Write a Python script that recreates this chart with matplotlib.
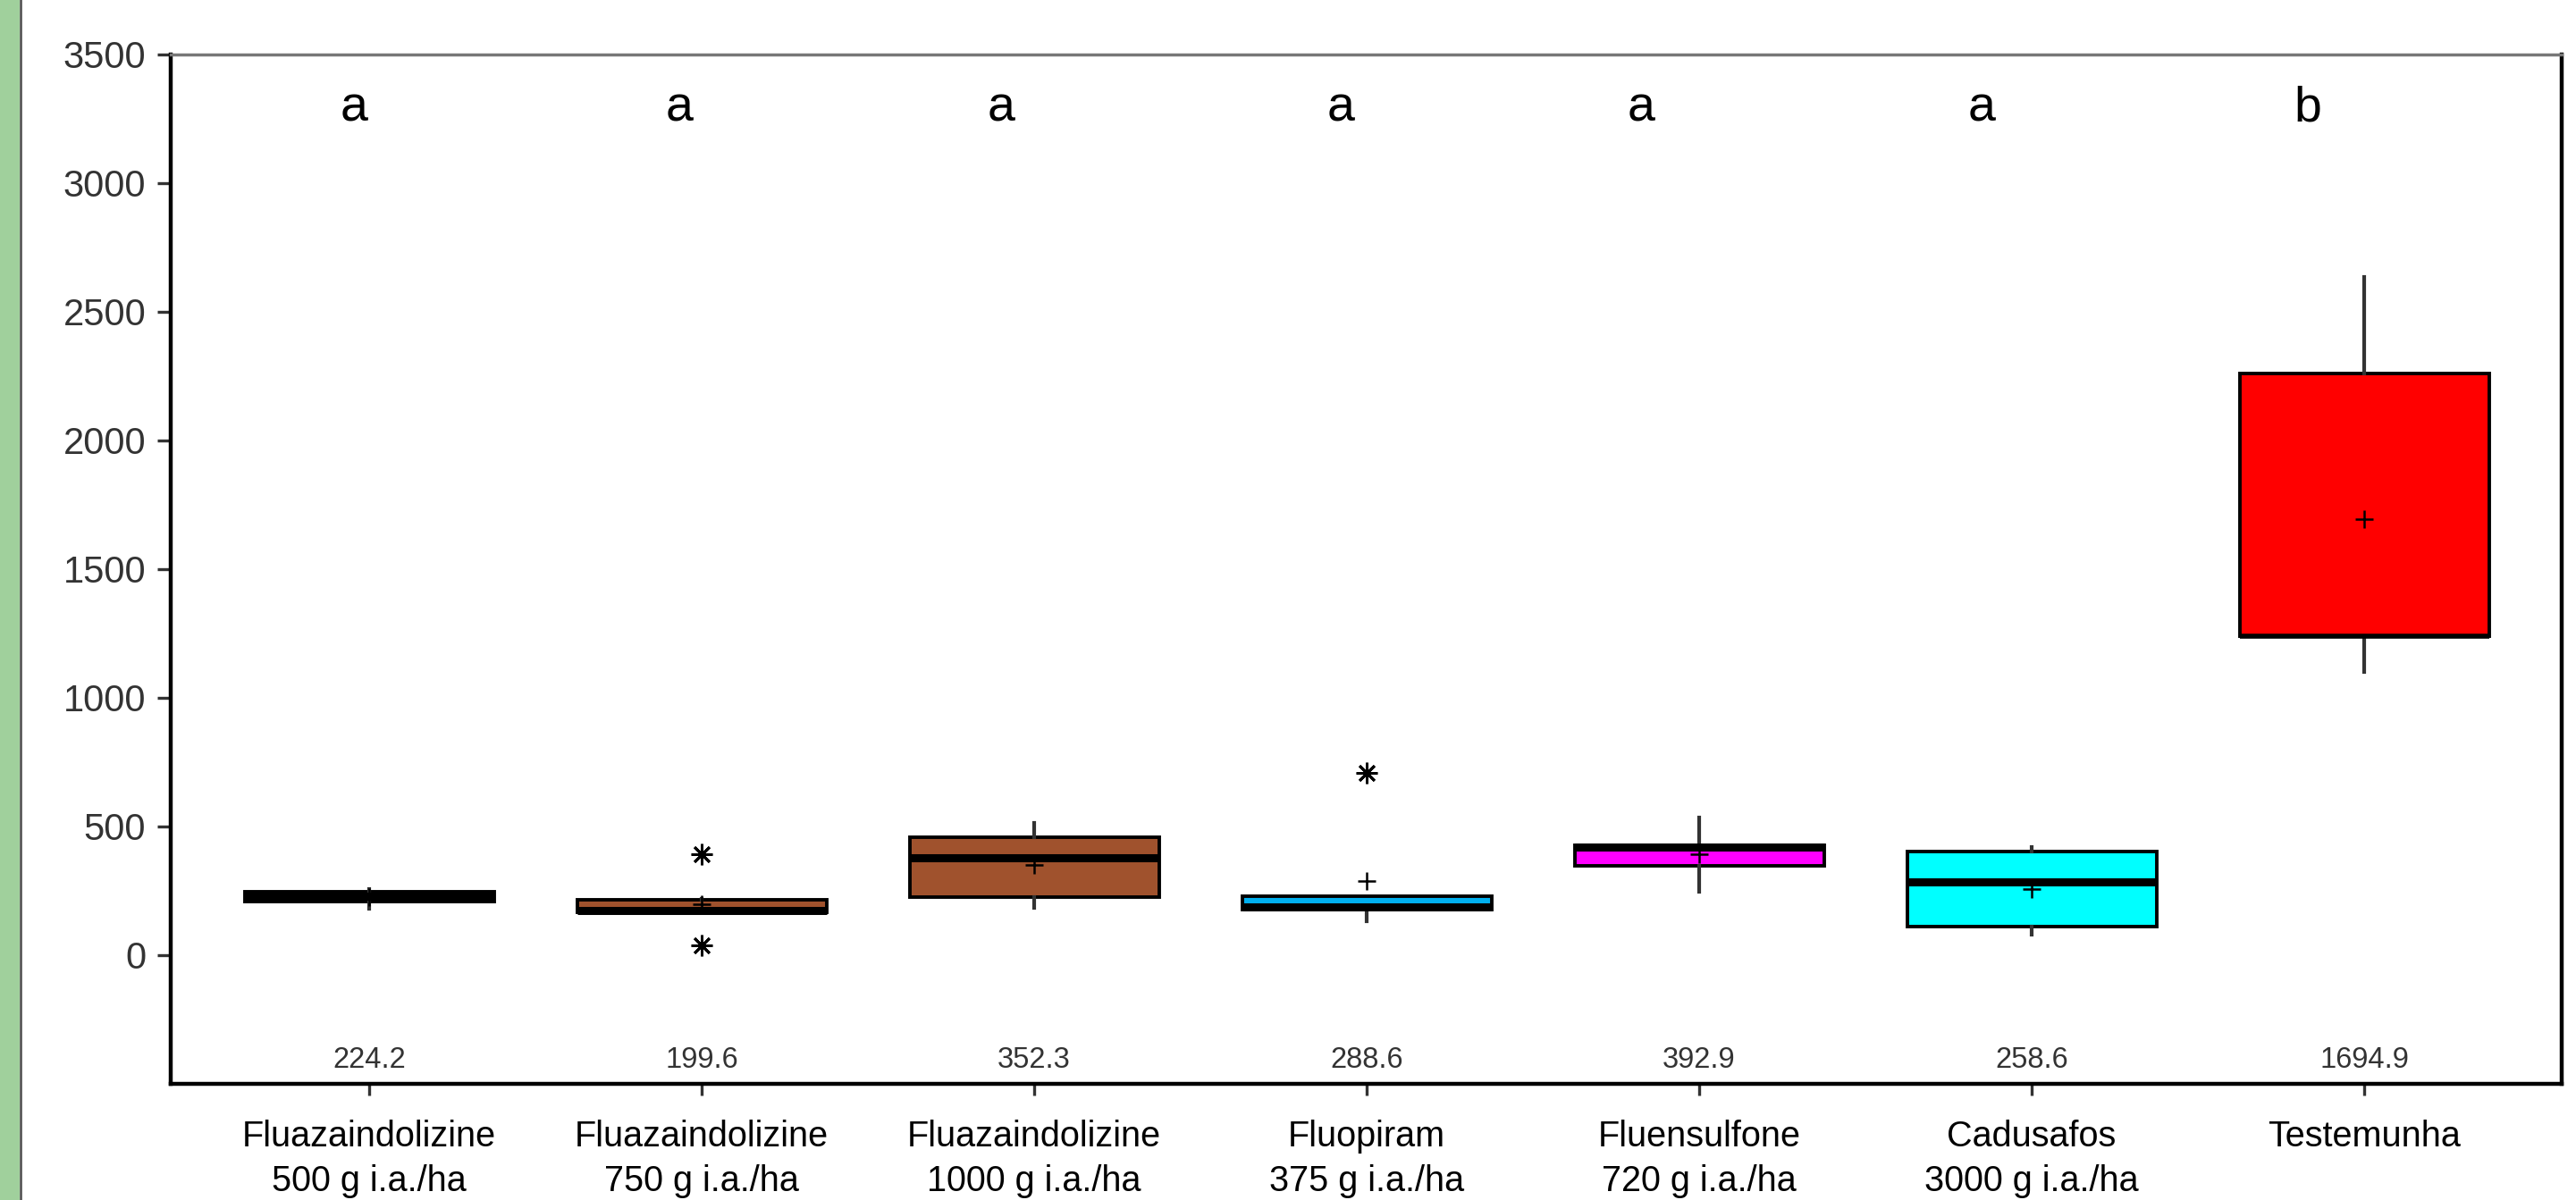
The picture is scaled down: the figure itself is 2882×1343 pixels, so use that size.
import matplotlib.pyplot as plt
from matplotlib.patches import Rectangle
from matplotlib.lines import Line2D

# treatments and summary stats
labels = ['Fluazaindolizine\n500 g i.a./ha', 'Fluazaindolizine\n750 g i.a./ha',
          'Fluazaindolizine\n1000 g i.a./ha', 'Fluopiram\n375 g i.a./ha',
          'Fluensulfone\n720 g i.a./ha', 'Cadusafos\n3000 g i.a./ha', 'Testemunha']
whislo = [180, 165, 185, 133, 245, 81, 1100]
q1 = [210, 165, 225, 178, 347, 110, 1238]
med = [230, 175, 379, 188, 419, 283, 1238]
q3 = [248, 215, 457, 228, 428, 402, 2259]
whishi = [257, 220, 514, 228, 535, 420, 2636]
means = [224.2, 199.6, 352.3, 288.6, 392.9, 258.6, 1694.9]
fliers = [[], [393, 37], [], [707], [], [], []]
letters = ['a', 'a', 'a', 'a', 'a', 'a', 'b']
colors = ['black', '#A0522D', '#A0522D', '#00B0F0', '#FF00FF', '#00FFFF', '#FF0000']

# small horizontal nudges of the letters (they were placed by hand)
letter_dx = [-0.046, -0.067, -0.10, -0.078, -0.175, -0.15, -0.17]

plt.rcParams['font.family'] = ['Liberation Sans', 'DejaVu Sans']

fig = plt.figure(figsize=(28.82, 13.43), dpi=100)
ax = fig.add_axes([0.06627, 0.0968, 0.92818, 0.85778])

stats = []
for i in range(len(labels)):
    stats.append(dict(whislo=whislo[i], q1=q1[i], med=med[i], q3=q3[i],
                      whishi=whishi[i], mean=means[i], fliers=fliers[i]))

pos = list(range(len(labels)))
bp = ax.bxp(stats, positions=pos, widths=0.75, patch_artist=True,
            showmeans=True, showcaps=False,
            boxprops=dict(edgecolor='black', linewidth=2.8),
            medianprops=dict(color='black', linewidth=6.5, solid_capstyle='butt'),
            whiskerprops=dict(color='#333333', linewidth=3),
            meanprops=dict(marker='+', markeredgecolor='black', markersize=14,
                           markeredgewidth=1.8),
            flierprops=dict(marker=(8, 2, 0), markeredgecolor='black',
                            markersize=17, markeredgewidth=2))
for patch, c in zip(bp['boxes'], colors):
    patch.set_facecolor(c)
# control box: median sits on the lower edge, drawn only a bit heavier
bp['medians'][6].set_linewidth(4)

ax.set_xlim(-0.597, 6.594)
ax.set_ylim(-500, 3500)
ax.set_yticks([0, 500, 1000, 1500, 2000, 2500, 3000, 3500])
ax.set_xticks(pos)
ax.set_xticklabels(labels, fontsize=28.5, color='black', linespacing=1.4)
ax.tick_params(axis='y', labelsize=30, labelcolor='#333333', color='#333333',
               length=11, width=2.4, pad=9)
ax.tick_params(axis='x', length=9, width=2.4, color='#333333', pad=20)

for side in ['left', 'bottom', 'right']:
    ax.spines[side].set_linewidth(3.2)
    ax.spines[side].set_color('black')
ax.spines['top'].set_linewidth(2.5)
ax.spines['top'].set_color('#777777')

# mean values written above the x axis
for x, m in zip(pos, means):
    ax.text(x, -409, f'{m:.1f}', ha='center', va='center', fontsize=23.5,
            color='#333333')

# significance letters
for x, dx, let in zip(pos, letter_dx, letters):
    ax.text(x + dx, 3240, let, ha='center', va='baseline', fontsize=40,
            color='black')

# green band at the left edge of the slide
fig.add_artist(Rectangle((0, 0), 22 / 2882, 1, transform=fig.transFigure,
                         facecolor='#A0D09C', edgecolor='none'))
fig.add_artist(Line2D([23 / 2882, 23 / 2882], [0, 1], transform=fig.transFigure,
                      color='#4a4a4a', linewidth=1.8))

fig.savefig('out.png', dpi=100)
